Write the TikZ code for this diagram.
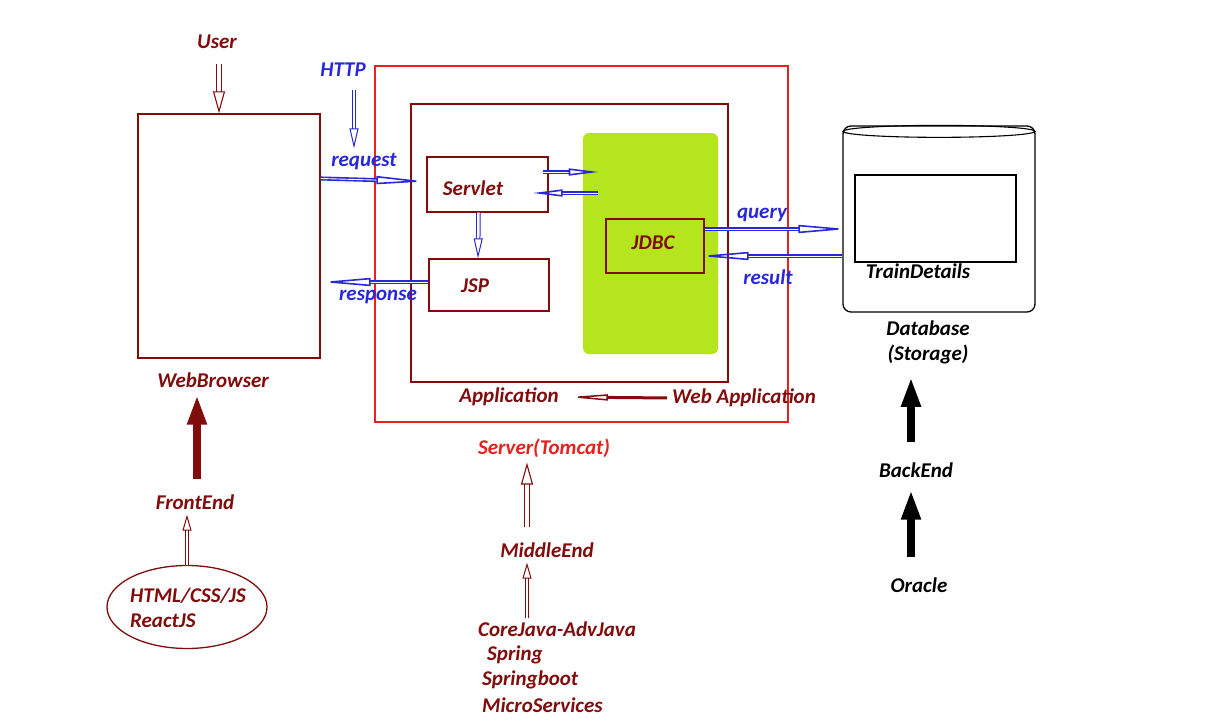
\documentclass[tikz,border=0pt]{standalone}
\usepackage{fontspec}
\setmainfont{Carlito}
\usetikzlibrary{arrows.meta,shapes.geometric}
\definecolor{rougefonce}{RGB}{128,12,12}
\definecolor{bleu}{RGB}{40,40,215}
\definecolor{rouge}{RGB}{232,32,32}
\definecolor{vert}{RGB}{181,230,29}
\begin{document}
\begin{tikzpicture}[x=1pt,y=-1pt]
% Styles
\tikzstyle{texte}=[font=\fontsize{21}{25}\selectfont\bfseries\itshape,inner sep=1pt]
\tikzstyle{boite}=[draw=rougefonce,line width=1.3pt,inner sep=0pt]
\tikzstyle{creuse}=[draw=rougefonce,double=white,double distance=3.5pt,line width=1.1pt,-{Triangle[open,length=22pt,width=12pt]}]
\tikzstyle{fleche}=[draw=bleu,double=white,double distance=0.9pt,line width=1.6pt,-{Triangle[open,length=50pt,width=8pt]}]
\tikzstyle{pleine}=[line width=8pt,-{Triangle[length=30pt,width=18pt]}]
% Cadre
\useasboundingbox (0,0) rectangle (1216,726);
% Boites
\node[draw=rouge,line width=1.5pt,minimum width=413pt,minimum height=356pt] (Serveur) at (581.5,244) {};
\node[boite,minimum width=317pt,minimum height=278pt] (AppWeb) at (569.5,243) {};
\node[fill=vert,rounded corners=6pt,minimum width=135pt,minimum height=221pt] (Vert) at (650.5,243.5) {};
\node[boite,minimum width=182pt,minimum height=244pt] (Navig) at (229,236) {};
\node[boite,minimum width=121pt,minimum height=55pt] (Servlet) at (487.5,184.5) {};
\node[boite,minimum width=120pt,minimum height=52pt] (JSP) at (489,285) {};
\node[boite,minimum width=98pt,minimum height=54pt] (JDBC) at (655,246) {};
\node[draw,line width=1.3pt,rounded corners=8pt,minimum width=192pt,minimum height=186pt] (BD) at (939,219) {};
\draw[line width=1.1pt] ([yshift=-6pt]BD.north) ellipse [x radius=96pt,y radius=6pt];
\node[draw,line width=1.1pt,minimum width=161pt,minimum height=87pt] (Table) at (935.5,218.5) {};
\node[draw=rougefonce,line width=1.3pt,ellipse,minimum width=160pt,minimum height=83pt] (Tech) at (187,607) {};
% Textes
\node[texte,rougefonce] (User) at (217,42) {User};
\node[texte,rougefonce] (NavLabel) at (213,380) {WebBrowser};
\node[texte,rougefonce] (Front) at (195,502) {FrontEnd};
\node[texte,rougefonce,align=left] at (188,608) {HTML/CSS/JS\\ReactJS};
\node[texte,bleu] (HTTP) at (343,70) {HTTP};
\node[texte,bleu] at (364,162) {request};
\node[texte,bleu] at (378,297) {response};
\node[texte,rougefonce] at (473,188) {Servlet};
\node[texte,rougefonce] at (475,286) {JSP};
\node[texte,rougefonce] at (653,243) {JDBC};
\node[texte,bleu] at (762,215) {query};
\node[texte,bleu] at (768,277) {result};
\node[texte] at (918,271) {TrainDetails};
\node[texte,align=center] (Base) at (928,342) {Database\\(Storage)};
\node[texte,rougefonce] (App) at (509,397) {Application};
\node[texte,rougefonce] (WebApp) at (744,398) {Web Application};
\node[texte,rouge] (Tomcat) at (544,448) {Server(Tomcat)};
\node[texte,rougefonce] (Middle) at (547,550) {MiddleEnd};
\node[texte,rougefonce,anchor=west] (Core) at (477,629) {CoreJava-AdvJava};
\node[texte,rougefonce,anchor=west] at (486,655) {Spring};
\node[texte,rougefonce,anchor=west] at (481,680) {Springboot};
\node[texte,rougefonce,anchor=west] at (481,705) {MicroServices};
\node[texte] (Back) at (916,470) {BackEnd};
\node[texte] (Oracle) at (919,585) {Oracle};
% Fleches
\draw[creuse,shorten <=14pt] ([xshift=2pt]User.south) -- ([xshift=2pt]User.south |- Navig.north);
\draw[pleine,rougefonce,shorten <=14pt,shorten >=6pt] ([xshift=2pt]Front.north) -- ([xshift=2pt]Front.north |- NavLabel.south);
\draw[creuse,line width=1pt,double distance=2.5pt,-{Triangle[open,length=16pt,width=9pt]},shorten >=4pt] (Tech.north) -- (Tech.north |- Front.south);
\draw[creuse,draw=bleu,line width=1pt,double distance=2.5pt,-{Triangle[open,length=20pt,width=9pt]},shorten <=12pt,shorten >=8pt] ([xshift=11pt]HTTP.south) -- ([xshift=11pt]HTTP.south |- Servlet.north);
\draw[fleche] ([yshift=6pt]Navig.east |- Servlet.west) -- ([yshift=3pt]Servlet.west);
\draw[fleche] ([yshift=3pt]JSP.west) -- ([yshift=3pt]JSP.west -| Navig.east);
\draw[fleche,-{Triangle[open,length=30pt,width=7pt]}] ([xshift=-6pt,yshift=12.5pt]Servlet.east) -- ([xshift=50pt,yshift=12.5pt]Servlet.east);
\draw[fleche,-{Triangle[open,length=30pt,width=7pt]}] ([xshift=49pt,yshift=-8.5pt]Servlet.east) -- ([xshift=-16pt,yshift=-8.5pt]Servlet.east);
\draw[creuse,draw=bleu,line width=1pt,double distance=2.5pt,-{Triangle[open,length=20pt,width=9pt]}] ([xshift=-9pt]Servlet.south) -- ([xshift=-11pt]JSP.north);
\draw[fleche,shorten >=-6pt] ([yshift=17pt]JDBC.east) -- ([yshift=17pt]JDBC.east -| BD.west);
\draw[fleche,shorten >=-6pt] ([yshift=-10pt]JDBC.east -| BD.west) -- ([yshift=-10pt]JDBC.east);
\draw[draw=rougefonce,line width=3pt,-{Triangle[open,length=40pt,width=6pt,line width=1.5pt]},shorten <=4pt,shorten >=8pt] (WebApp.west) -- (App.east);
\draw[creuse,shorten <=14pt,shorten >=4pt] ([xshift=-20pt]Middle.north) -- ([xshift=-20pt]Middle.north |- Tomcat.south);
\draw[creuse,line width=1pt,double distance=2.5pt,-{Triangle[open,length=16pt,width=9pt]},shorten <=2pt,shorten >=4pt] ([xshift=-20pt]Middle.south |- Core.north) -- ([xshift=-20pt]Middle.south);
\draw[pleine,shorten <=19pt,shorten >=12pt] ([xshift=-5pt]Back.north) -- ([xshift=-5pt]Back.north |- Base.south);
\draw[pleine,shorten <=19pt,shorten >=11pt] ([xshift=-8pt]Oracle.north) -- ([xshift=-8pt]Oracle.north |- Back.south);
\end{tikzpicture}
\end{document}
